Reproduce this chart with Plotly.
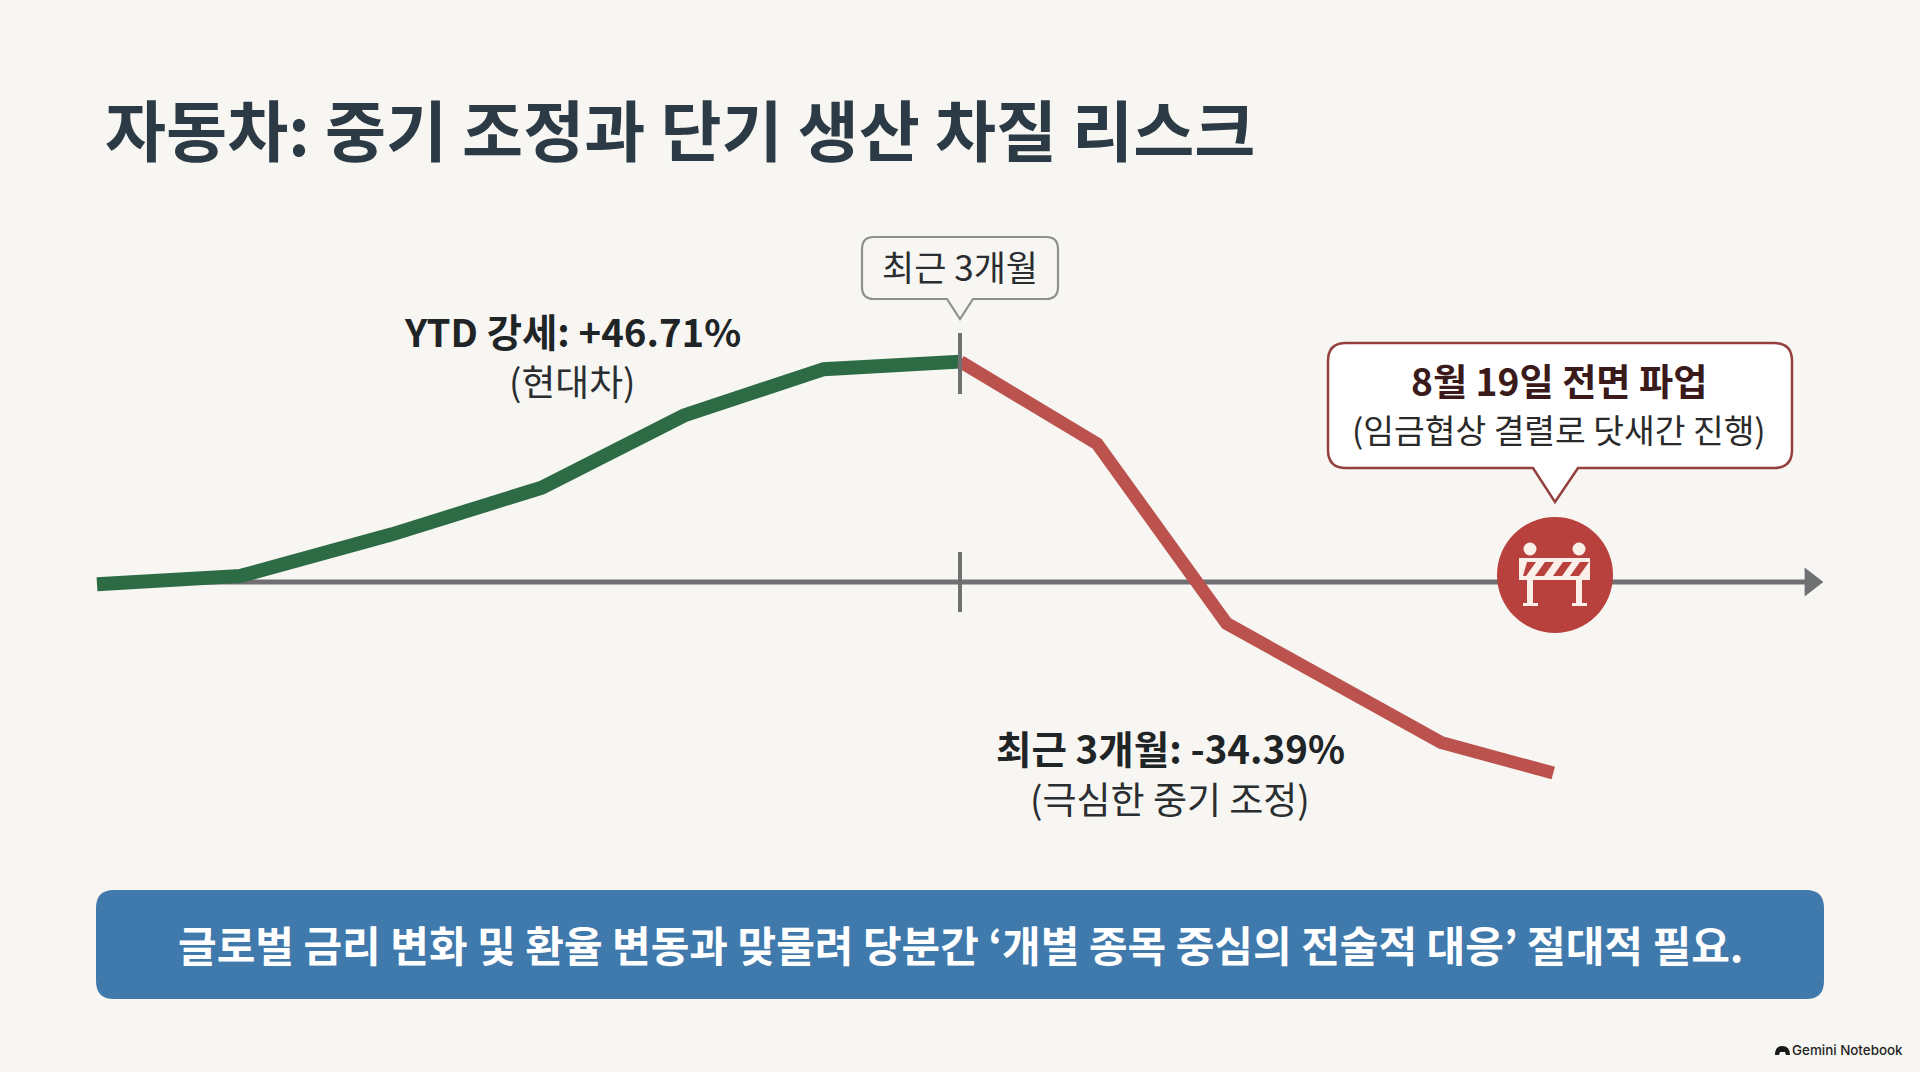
import plotly.graph_objects as go

W, H = 1920, 1072
BG = "#F7F6F2"
KR = "Noto Sans CJK KR"

# ---- data (months from start, index level in %) ----
months_up = [0.0, 1.0, 2.05, 3.09, 4.08, 5.05, 6.0]
values_up = [-0.5, 1.3, 10.1, 20.0, 35.3, 45.1, 46.71]
months_down = [6.0, 6.95, 7.85, 9.34, 10.12]
values_down = [46.71, 29.3, -8.8, -34.0, -40.5]
axis_months = [0.0, 11.91]
axis_values = [0, 0]
axis_arrow_sizes = [0, 25]

title_text = "자동차: 중기 조정과 단기 생산 차질 리스크"
ytd_label = "YTD 강세: +46.71%"
ytd_sub = "(현대차)"
recent_tag = "최근 3개월"
recent_label = "최근 3개월: -34.39%"
recent_sub = "(극심한 중기 조정)"
strike_label = "8월 19일 전면 파업"
strike_sub = "(임금협상 결렬로 닷새간 진행)"
banner_text = "글로벌 금리 변화 및 환율 변동과 맞물려 당분간 ‘개별 종목 중심의 전술적 대응’ 절대적 필요."
credit_text = "Gemini Notebook"

# ---- scales: the plot area fills the figure ----
X0, XU = 97.0, 143.9
Y0, YU = 582.0, 4.718
x_range = [-X0 / XU, (W - X0) / XU]
y_range = [-(H - Y0) / YU, Y0 / YU]


def fx(p):
    return p / W


def fy(p):
    return 1 - p / H


def path(points_cmds):
    out = []
    for c in points_cmds:
        if isinstance(c, str):
            out.append(c)
        else:
            out.append(f"{fx(c[0]):.5f},{fy(c[1]):.5f}")
    return " ".join(out)


def rounded(x0, y0, x1, y1, r, tail=None):
    cmds = ["M", (x0 + r, y0), "L", (x1 - r, y0), "Q", (x1, y0), (x1, y0 + r),
            "L", (x1, y1 - r), "Q", (x1, y1), (x1 - r, y1)]
    if tail:
        a, b, tx, ty = tail
        cmds += ["L", (b, y1), "L", (tx, ty), "L", (a, y1)]
    cmds += ["L", (x0 + r, y1), "Q", (x0, y1), (x0, y1 - r),
             "L", (x0, y0 + r), "Q", (x0, y0), (x0 + r, y0), "Z"]
    return path(cmds)


def pshape(d, fill=None, line=None, lw=0, layer="above"):
    return dict(type="path", xref="paper", yref="paper", path=d, layer=layer,
                fillcolor=fill or "rgba(0,0,0,0)",
                line=dict(color=line or "rgba(0,0,0,0)", width=lw))


def circle(cx, cy, r, fill):
    return dict(type="circle", xref="paper", yref="paper", x0=fx(cx - r), x1=fx(cx + r),
                y0=fy(cy - r), y1=fy(cy + r), fillcolor=fill, line=dict(width=0), layer="above")


def rect(x0, y0, x1, y1, fill):
    return dict(type="rect", xref="paper", yref="paper", x0=fx(x0), x1=fx(x1),
                y0=fy(y0), y1=fy(y1), fillcolor=fill, line=dict(width=0), layer="above")


def vtick(p, y0, y1):
    return dict(type="line", xref="paper", yref="paper", x0=fx(p), x1=fx(p), y0=fy(y0), y1=fy(y1),
                line=dict(color="#6E7072", width=4), layer="above")


def note(text, px, py, size, color="#1F2426", weight=400, anchor="center"):
    return dict(text=text, xref="paper", yref="paper", x=fx(px), y=fy(py), showarrow=False,
                xanchor=anchor, yanchor="middle",
                font=dict(family=KR, size=size, color=color, weight=weight))


fig = go.Figure()
fig.add_trace(go.Scatter(x=axis_months, y=axis_values, mode="lines+markers",
                         line=dict(color="#6E7072", width=5),
                         marker=dict(symbol="triangle-right", size=axis_arrow_sizes, color="#6E7072",
                                     opacity=1, line=dict(width=0)),
                         hoverinfo="skip"))
fig.add_trace(go.Scatter(x=months_up, y=values_up, mode="lines",
                         line=dict(color="#2C6B44", width=14), hoverinfo="skip"))
fig.add_trace(go.Scatter(x=months_down, y=values_down, mode="lines",
                         line=dict(color="#BC524E", width=13), hoverinfo="skip"))

RED = "#B8403D"
shapes = [
    vtick(960, 333, 394),
    vtick(960, 552, 612),
    pshape(rounded(862, 237, 1058, 299, 12, (947, 973, 960, 319)), BG, "#8C8F8F", 2.2),
    pshape(rounded(1328, 343, 1792, 468, 18, (1533, 1578, 1555, 502)), "#FFFFFF", "#93403E", 2.5),
    circle(1555, 575, 58, RED),
    # barricade icon
    circle(1530, 549, 6.5, "#FBEFEA"),
    circle(1579, 549, 6.5, "#FBEFEA"),
    rect(1527, 578, 1533, 603, "#FBEFEA"),
    rect(1576, 578, 1582, 603, "#FBEFEA"),
    rect(1523, 603, 1538, 606, "#FBEFEA"),
    rect(1572, 603, 1587, 606, "#FBEFEA"),
    rect(1519, 558, 1590, 580, "#FBEFEA"),
]
for sx in (1525, 1543, 1561, 1578):
    shapes.append(pshape(path(["M", (sx + 2, 562), "L", (sx + 11, 562), "L", (sx + 1, 576), "L", (sx - 8 if sx > 1525 else 1523, 576), "Z"]), RED))
shapes += [
    pshape(rounded(96, 890, 1824, 999, 18), "#4079AC", None, 0),
    # credit mark
    pshape(path(["M", (1775, 1055), "Q", (1775, 1046), (1782, 1046), "Q", (1790, 1046), (1790, 1055),
                 "L", (1786, 1055), "L", (1785, 1052), "L", (1780, 1052), "L", (1779, 1055), "Z"]), "#1A1A1A"),
]

annotations = [
    note(ytd_label, 572, 330, 38.4, "#1F2426", 700),
    note(ytd_sub, 572, 380, 36.8, "#2A2E30"),
    note(recent_tag, 960, 266, 35, "#2A2E30"),
    note(recent_label, 1170, 747, 38.5, "#1F2426", 700),
    note(recent_sub, 1170, 798, 37, "#2A2E30"),
    note(strike_label, 1559, 380, 37.2, "#3A1A1A", 700),
    note(strike_sub, 1559, 428, 33.4, "#2A2A2A"),
    note(banner_text, 960, 943, 42, "#FFFFFF", 700),
    dict(text=credit_text, xref="paper", yref="paper", x=fx(1905), y=fy(1050), showarrow=False,
         xanchor="right", yanchor="middle",
         font=dict(family="Inter", size=13.4, color="#1F1F1F", weight=500)),
]

fig.update_layout(
    width=W, height=H, autosize=False,
    margin=dict(l=0, r=0, t=0, b=0, pad=0),
    paper_bgcolor=BG, plot_bgcolor=BG,
    showlegend=False,
    title=dict(text=title_text, x=fx(105), y=fy(133), xref="paper", yref="paper",
               xanchor="left", yanchor="middle",
               font=dict(family=KR, size=66.4, color="#2B3A44", weight=700)),
    xaxis=dict(range=x_range, visible=False, fixedrange=True),
    yaxis=dict(range=y_range, visible=False, fixedrange=True),
    shapes=shapes,
    annotations=annotations,
)

fig.write_html("out.html", config=dict(displayModeBar=False),
               post_script="document.body.style.margin='0';document.documentElement.style.overflow='hidden';")
